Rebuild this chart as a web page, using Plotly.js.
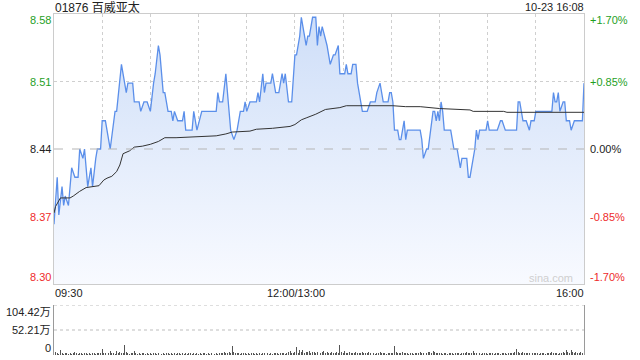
<!DOCTYPE html>
<html><head><meta charset="utf-8">
<script src="https://cdn.plot.ly/plotly-3.0.1.min.js"></script>
<style>html,body{margin:0;padding:0;background:#fff}#c{width:640px;height:360px}</style>
</head><body><div id="c"></div>
<script>
const stockTitle = '01876 百威亚太';
const stampText = '10-23 16:08';
const prevClose = 8.44;

// minute index since 09:30 (lunch removed; 150 = 12:00/13:00, 330 = 16:00)
const priceMin = [0,2,3,5,6,7,9,11,13,15,
  16,18,19,21,23,24,26,27,29,30,
  32,35,38,39,42,45,46,49,50,53,
  54,56,58,60,62,63,65,66,68,69,
  71,73,74,75,77,80,81,82,86,87,
  89,92,101,102,103,105,107,108,110,112,
  114,116,118,119,120,122,126,127,128,130,
  131,132,135,136,137,138,140,142,143,144,
  146,148,150,151,153,154,156,157,158,159,
  161,163,164,165,166,167,170,172,174,175,
  177,178,181,182,183,185,186,188,189,192,
  195,197,200,201,203,204,205,208,209,210,
  211,212,214,215,216,218,219,220,226,228,
  229,230,232,233,236,237,238,239,240,241,
  242,243,247,249,251,253,254,257,258,259,
  261,262,263,264,265,269,270,271,276,278,
  279,281,288,289,290,292,294,296,297,299,
  300,310,311,312,313,314,315,317,318,319,
  321,322,324,329,330];
const priceVal = [8.36,8.41,8.37,8.40,8.38,8.39,8.38,8.42,8.41,8.41,
  8.44,8.43,8.44,8.40,8.42,8.40,8.43,8.44,8.44,8.47,
  8.47,8.44,8.48,8.48,8.53,8.50,8.51,8.51,8.49,8.49,
  8.48,8.49,8.49,8.48,8.51,8.52,8.55,8.54,8.50,8.50,
  8.48,8.48,8.47,8.48,8.47,8.47,8.48,8.46,8.46,8.48,
  8.46,8.48,8.48,8.50,8.49,8.49,8.52,8.50,8.46,8.45,
  8.46,8.48,8.48,8.49,8.48,8.49,8.49,8.50,8.49,8.52,
  8.50,8.51,8.51,8.52,8.51,8.50,8.50,8.52,8.51,8.52,
  8.49,8.49,8.54,8.54,8.56,8.58,8.56,8.55,8.56,8.56,
  8.58,8.58,8.55,8.57,8.56,8.57,8.55,8.53,8.54,8.54,
  8.55,8.52,8.52,8.53,8.52,8.52,8.53,8.53,8.51,8.48,
  8.48,8.49,8.49,8.50,8.51,8.50,8.49,8.49,8.50,8.50,
  8.49,8.46,8.46,8.45,8.45,8.47,8.45,8.46,8.46,8.46,
  8.45,8.43,8.44,8.44,8.48,8.48,8.47,8.48,8.47,8.49,
  8.48,8.46,8.46,8.44,8.44,8.42,8.43,8.43,8.41,8.41,
  8.43,8.44,8.46,8.45,8.46,8.46,8.47,8.46,8.46,8.47,
  8.47,8.46,8.46,8.49,8.49,8.47,8.47,8.46,8.47,8.47,
  8.48,8.48,8.50,8.49,8.49,8.50,8.48,8.49,8.49,8.47,
  8.47,8.46,8.47,8.47,8.51];

const avgMin = [0,1,4,10,12,16,20,24,28,31,33,36,39,41,43,47,50,55,60,65,69,76,91,101,107,111,122,126,136,147,150,154,157,163,169,178,182,199,211,219,228,240,251,259,261,280,282,330];
const avgVal = [8.372,8.379,8.388,8.388,8.390,8.395,8.399,8.400,8.401,8.407,8.409,8.411,8.416,8.423,8.435,8.438,8.442,8.443,8.445,8.448,8.452,8.452,8.453,8.454,8.456,8.458,8.459,8.461,8.462,8.464,8.466,8.471,8.473,8.477,8.482,8.484,8.486,8.486,8.486,8.485,8.485,8.483,8.4825,8.4815,8.480,8.480,8.479,8.479];

// per-minute volume, 万股
const volume = [25,6,4,3,10,5,3,4,5,3,4,3,5,7,4,3,5,4,3,4,5,3,4,3,5,4,3,4,5,4,
  12,5,4,6,4,9,5,4,3,8,4,7,5,4,21,6,4,3,5,4,9,4,3,4,3,5,4,3,4,3,
  4,3,5,4,3,4,5,3,4,3,4,5,3,4,3,4,3,5,4,3,4,3,4,3,5,4,3,4,3,4,
  3,4,3,5,4,3,4,3,4,5,3,4,3,4,5,4,6,4,5,7,5,19,6,4,5,4,3,4,5,4,
  3,4,3,4,5,3,4,3,4,3,4,5,3,4,3,4,3,4,5,4,3,4,5,4,3,5,6,8,5,4,
  6,16,5,10,6,11,5,7,6,8,5,6,7,5,6,9,5,7,8,5,6,4,5,6,4,5,6,5,21,6,
  5,8,4,5,6,4,5,4,6,5,4,5,7,4,5,4,6,4,5,4,3,5,4,6,4,5,4,3,5,4,
  5,4,19,6,5,4,5,6,4,5,4,3,5,4,3,4,5,4,6,4,5,4,5,6,7,5,8,6,5,4,
  5,4,3,5,4,3,4,5,4,3,4,5,4,3,4,5,4,6,4,5,4,9,5,4,5,4,3,4,5,4,
  3,4,5,4,3,4,5,4,3,4,5,4,3,4,5,4,5,6,12,6,5,4,6,5,4,5,4,3,4,5,
  4,5,3,4,5,4,3,4,5,4,6,4,5,4,3,4,5,6,5,10,6,5,10,6,5,7,5,4,6,5,8];

const priceLabels = ['8.58','8.51','8.44','8.37','8.30'];
const pctLabels = ['+1.70%','+0.85%','0.00%','-0.85%','-1.70%'];
const pctLevels = [1.70,0.85,0,-0.85,-1.70];
const timeLabels = ['09:30','12:00/13:00','16:00'];
const timeTicks = [0,150,330];
const volLabels = ['104.42万','52.21万','0'];
const volLevels = [104.42,52.21,0];

const FONT = 'Liberation Sans, Arial, "Noto Sans CJK SC", sans-serif';
const GREEN = '#1f9f1f', RED = '#ee2b2b', DARK = '#222';
const yTop = prevClose * (1 + pctLevels[0] / 100);
const yBot = prevClose * (1 + pctLevels[4] / 100);
const mainBottom = 71 / 341, volTop = 50 / 341;

function lvlColor(p) { return p > 0 ? GREEN : (p < 0 ? RED : DARK); }

const traces = [
  {
    x: priceMin, y: priceVal, type: 'scatter', mode: 'lines',
    line: {color: '#5b8fea', width: 1.3},
    fill: 'tozeroy', fillcolor: 'rgba(220,232,250,0.8)',
    fillgradient: {type: 'vertical', start: yBot, stop: yTop,
      colorscale: [[0, 'rgb(248,250,255)'], [1, 'rgb(206,222,248)']]},
    xaxis: 'x', yaxis: 'y', hoverinfo: 'skip'
  },
  {
    x: avgMin, y: avgVal, type: 'scatter', mode: 'lines',
    line: {color: '#333333', width: 1},
    xaxis: 'x', yaxis: 'y', hoverinfo: 'skip'
  },
  {
    x: volume.map((v, i) => i), y: volume, type: 'bar',
    marker: {color: '#555555', line: {width: 0}}, width: 0.6,
    xaxis: 'x2', yaxis: 'y2', hoverinfo: 'skip'
  }
];

const annotations = [];
annotations.push({xref: 'paper', yref: 'paper', x: 0, y: 1, xanchor: 'left', yanchor: 'middle',
  yshift: 7, xshift: -1, text: stockTitle, showarrow: false, font: {family: FONT, size: 12, color: '#222'}});
annotations.push({xref: 'paper', yref: 'paper', x: 1, y: 1, xanchor: 'right', yanchor: 'middle',
  yshift: 7, xshift: 2, text: stampText, showarrow: false, font: {family: FONT, size: 11, color: '#222'}});
pctLevels.forEach((p, i) => {
  const lvl = prevClose * (1 + p / 100);
  const ys = i === 0 ? -6 : (i === pctLevels.length - 1 ? 7 : 0);
  annotations.push({xref: 'paper', yref: 'y', x: 0, y: lvl, xanchor: 'right', yanchor: 'middle',
    xshift: -1, yshift: ys, text: priceLabels[i], showarrow: false,
    font: {family: FONT, size: 11, color: lvlColor(p)}});
  annotations.push({xref: 'paper', yref: 'y', x: 1, y: lvl, xanchor: 'left', yanchor: 'middle',
    xshift: 4, yshift: ys, text: pctLabels[i], showarrow: false,
    font: {family: FONT, size: 11, color: lvlColor(p)}});
});
timeLabels.forEach((t, i) => {
  annotations.push({xref: 'x', yref: 'paper', x: timeTicks[i], y: mainBottom, yanchor: 'middle',
    xanchor: i === 0 ? 'left' : (i === timeLabels.length - 1 ? 'right' : 'center'),
    xshift: i === 0 ? -1 : (i === timeLabels.length - 1 ? 2 : 1),
    yshift: -9, text: t, showarrow: false, font: {family: FONT, size: 11, color: '#222'}});
});
volLevels.forEach((v, i) => {
  const ys = i === 0 ? -7 : (i === volLevels.length - 1 ? 7 : 0);
  annotations.push({xref: 'paper', yref: 'y2', x: 0, y: v, xanchor: 'right', yanchor: 'middle',
    xshift: -1, yshift: ys, text: volLabels[i], showarrow: false,
    font: {family: FONT, size: 11, color: '#222'}});
});
annotations.push({xref: 'paper', yref: 'paper', x: 1, y: mainBottom, xanchor: 'right', yanchor: 'middle',
  xshift: -9, yshift: 6, text: 'sina.com', showarrow: false, font: {family: FONT, size: 11, color: '#cfcfcf'}});

const shapes = [
  {type: 'line', xref: 'paper', yref: 'y', x0: 0, x1: 1, y0: prevClose, y1: prevClose,
    line: {color: '#b5b5b5', width: 1, dash: 'dash'}},
  {type: 'line', xref: 'paper', yref: 'y2', x0: 0, x1: 1, y0: volLevels[0], y1: volLevels[0],
    line: {color: '#bdbdbd', width: 1, dash: 'dot'}},
  {type: 'line', xref: 'paper', yref: 'y2', x0: 0, x1: 1, y0: volLevels[1], y1: volLevels[1],
    line: {color: '#bdbdbd', width: 1, dash: 'dot'}}
];

const gridX = [];
for (let m = 30; m < 330; m += 30) gridX.push(m);

const layout = {
  width: 640, height: 360,
  margin: {l: 54, r: 56, t: 14, b: 5, pad: 0},
  paper_bgcolor: '#fff', plot_bgcolor: 'rgba(0,0,0,0)',
  showlegend: false, hovermode: false, bargap: 0,
  xaxis: {domain: [0, 1], range: [0, 330], anchor: 'y', tickvals: gridX, showticklabels: false,
    ticks: '', showgrid: true, gridcolor: '#cfcfcf', griddash: 'dot', gridwidth: 1,
    showline: true, mirror: true, linecolor: '#cccccc', linewidth: 1, zeroline: false, fixedrange: true},
  yaxis: {domain: [mainBottom, 1], range: [yBot, yTop], anchor: 'x',
    tickvals: [prevClose * (1 + pctLevels[1] / 100), prevClose * (1 + pctLevels[3] / 100)],
    showticklabels: false, ticks: '', showgrid: true, gridcolor: '#cfcfcf', griddash: 'dot',
    showline: true, mirror: true, linecolor: '#cccccc', linewidth: 1, zeroline: false, fixedrange: true},
  xaxis2: {domain: [0, 1], range: [0, 330], anchor: 'y2', showticklabels: false, ticks: '',
    showgrid: false, showline: false, zeroline: false, fixedrange: true},
  yaxis2: {domain: [0, volTop], range: [0, volLevels[0]], anchor: 'x2', showticklabels: false,
    ticks: '', showgrid: false, showline: true, mirror: true, linecolor: '#9a9a9a', linewidth: 1,
    zeroline: false, fixedrange: true},
  annotations: annotations,
  shapes: shapes
};

Plotly.newPlot('c', traces, layout, {staticPlot: true, displayModeBar: false});
</script>
</body></html>
